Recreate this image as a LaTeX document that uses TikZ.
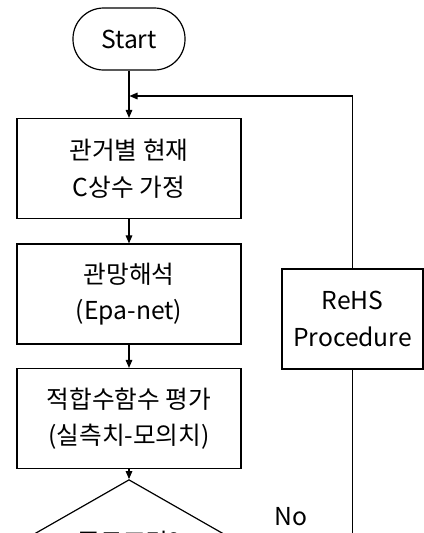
\documentclass[tikz,border=0pt]{standalone}
\usepackage{fontspec}
\setmainfont{Noto Sans CJK KR}
\usetikzlibrary{shapes.geometric,arrows.meta}
\begin{document}
\begin{tikzpicture}[x=0.75pt,y=-0.75pt,
  every node/.style={font=\fontsize{18.5pt}{27.5pt}\selectfont, align=center, inner sep=0pt},
  box/.style={draw, line width=0.9pt, minimum width=168pt, minimum height=75pt},
  sidebox/.style={draw, line width=0.9pt, minimum width=105.75pt, minimum height=75pt},
  term/.style={draw, line width=0.9pt, minimum width=84pt, minimum height=46.5pt, rounded corners=23pt},
  decision/.style={draw, line width=0.9pt, shape=diamond, minimum width=163.5pt, minimum height=73.5pt},
  arr/.style={-{Triangle[length=6pt,width=5pt]}, line width=0.8pt},
  conn/.style={line width=0.8pt}]
\useasboundingbox (0,0) rectangle (424,533);
\clip (0,0) rectangle (424,533);
\node[term] (start) at (129,39) {Start};
\node[box] (b1) at (129,168.5) {관거별 현재\\C상수 가정};
\node[box] (b2) at (129,294) {관망해석\\(Epa-net)};
\node[box] (b3) at (129,418.5) {적합수함수 평가\\(실측치-모의치)};
\node[decision] (dec) at (129,542) {종료조건?};
\node[sidebox] (rehs) at (352.5,319) {ReHS\\Procedure};
\node (no) at (291,517) {No};
\coordinate (join) at (129.5,96);
\draw[arr] (start) -- (b1);
\draw[arr] (b1) -- (b2);
\draw[arr] (b2) -- (b3);
\draw[arr] (b3) -- (dec);
\draw[arr] (rehs.north) |- (join);
\draw[conn] (dec.east) -| (rehs.south);
\end{tikzpicture}
\end{document}
